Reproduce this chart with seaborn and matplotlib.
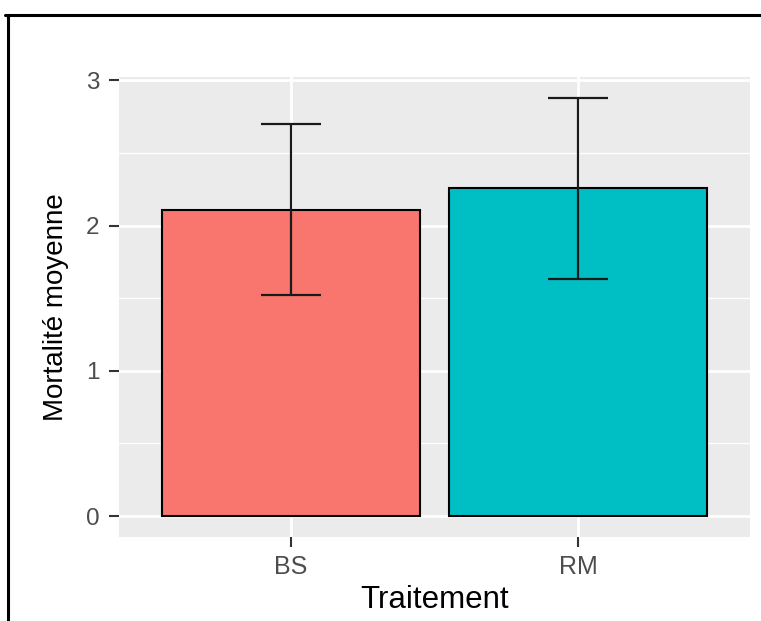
import numpy as np
import pandas as pd
import matplotlib
matplotlib.use("Agg")
import matplotlib.pyplot as plt
import seaborn as sns
from matplotlib.lines import Line2D
from matplotlib.ticker import MultipleLocator


treatments = ["BS", "RM"]
means = [2.11, 2.26]
err_low = [1.52, 1.63]
err_high = [2.70, 2.88]
bar_colors = ["#F8766D", "#00BFC4"]


sns.set_theme(style="darkgrid")
plt.rcParams["font.family"] = ["Liberation Sans", "DejaVu Sans"]

df = pd.DataFrame({"Traitement": treatments, "Mortalite": means})

fig = plt.figure(figsize=(7.61, 6.21), dpi=100)
ax = fig.add_axes([119 / 761, 1 - 537 / 621, 631 / 761, 460 / 621])
ax.set_facecolor("#EBEBEB")

sns.barplot(data=df, x="Traitement", y="Mortalite", hue="Traitement",
            palette=bar_colors, saturation=1, errorbar=None, width=0.9,
            edgecolor="black", linewidth=1.5, legend=False, ax=ax, zorder=3)

# error bars from the summary values
x_pos = np.arange(len(treatments))
lo = np.array(means) - np.array(err_low)
hi = np.array(err_high) - np.array(means)
ax.errorbar(x_pos, means, yerr=[lo, hi], fmt="none", ecolor="#1a1a1a",
            elinewidth=1.6, capsize=0, zorder=4)
for xi, l, h in zip(x_pos, err_low, err_high):
    ax.hlines([l, h], xi - 0.105, xi + 0.105, color="#1a1a1a", lw=1.6, zorder=4)

ax.set_xlim(-0.6, 1.6)
ax.set_ylim(-0.144, 3.024)
ax.yaxis.set_major_locator(MultipleLocator(1))
ax.yaxis.set_minor_locator(MultipleLocator(0.5))
ax.grid(which="major", color="white", lw=2.0)
ax.grid(which="minor", axis="y", color="white", lw=1.0)
ax.set_axisbelow(True)
for s in ax.spines.values():
    s.set_visible(False)

ax.tick_params(axis="both", which="major", bottom=True, left=True, length=7,
               width=1.5, color="#333333", labelcolor="#4D4D4D")
ax.tick_params(axis="y", which="minor", left=False, length=0)
ax.tick_params(axis="y", labelsize=17.5, pad=7)
ax.tick_params(axis="x", labelsize=18, pad=6)

ax.set_xlabel("Traitement", fontsize=22.5, color="black", labelpad=4)
ax.set_ylabel("Mortalité moyenne", fontsize=20, color="black", labelpad=12)

# black frame around the picture (top and left)
fig.add_artist(Line2D([5 / 761, 1], [1 - 15 / 621, 1 - 15 / 621], color="black", lw=2.2,
                      transform=fig.transFigure))
fig.add_artist(Line2D([8 / 761, 8 / 761], [1 - 15 / 621, 0], color="black", lw=2.2,
                      transform=fig.transFigure))

fig.savefig("out.png", dpi=100, facecolor="white")
